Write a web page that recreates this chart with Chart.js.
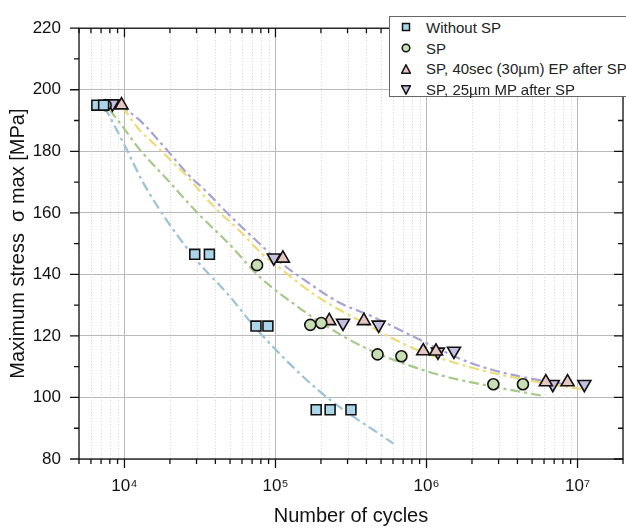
<!DOCTYPE html>
<html>
<head>
<meta charset="utf-8">
<script src="https://cdn.jsdelivr.net/npm/chart.js@4.4.1/dist/chart.umd.min.js"></script>
<style>
  html, body { margin: 0; padding: 0; background: #fff; overflow: hidden; }
  #wrap { position: relative; width: 640px; height: 531px; }
  #legend {
    position: absolute; left: 389px; top: 16px; width: 240px; height: 81px;
    box-sizing: border-box; border: 1px solid #666; background: #fff;
    font-family: "Liberation Sans", Arial, sans-serif; font-size: 15px; color: #222;
    padding-top: 0px;
  }
  #legend .row { height: 20.8px; display: flex; align-items: center; }
  #legend svg { margin-left: 11px; margin-right: 15px; }
</style>
</head>
<body>
<div id="wrap">
  <canvas id="chart" width="640" height="531"></canvas>
  <div id="legend"></div>
</div>
<script>
// measured points (cycles, MPa)
const withoutSpN = [6560, 7280, 29200, 36500, 74300, 89100, 186000, 230000, 316000];
const withoutSpS = [195, 195, 146.5, 146.5, 123.2, 123.2, 96, 96, 96];

const spN = [7500, 75500, 170000, 201000, 474000, 682000, 2770000, 4350000];
const spS = [195, 143, 123.6, 124.2, 114, 113.4, 104.3, 104.3];

const epN = [9560, 112000, 227000, 385000, 951000, 1156000, 6170000, 8590000];
const epS = [195, 145.2, 124.9, 124.9, 115.1, 115, 105, 105];

const mpN = [8330, 97500, 280000, 482000, 1190000, 1520000, 6860000, 11100000];
const mpS = [195.5, 145.4, 124.2, 123.6, 114.8, 115.1, 104.3, 104.3];

// fitted curves
const fitWithoutN = [7400, 10300, 13100, 19700, 31000, 48700, 76500, 198000, 604000];
const fitWithoutS = [194.4, 180.8, 170.4, 156.5, 143.8, 133.4, 121.7, 101.8, 85.0];

const fitSpN = [7970, 9700, 12500, 18800, 31000, 50900, 76500, 134000, 220000, 421000, 923000, 1410000, 2860000, 5890000];
const fitSpS = [193.5, 188.1, 180.8, 171.3, 159.6, 149.2, 139.7, 130.2, 123.0, 115.4, 109.1, 106.5, 103.4, 100.5];

const fitEpN = [9700, 12500, 16200, 20600, 26600, 34400, 43800, 56700, 80100, 108000, 181000, 362000, 817000, 2210000, 4700000, 10600000];
const fitEpS = [194.4, 187.1, 181.8, 176.7, 171.3, 165.0, 159.6, 154.6, 147.0, 141.9, 133.4, 124.9, 116.0, 109.1, 105.6, 102.7];

const fitMpN = [9270, 12500, 18800, 26600, 34400, 48700, 73100, 108000, 163000, 256000, 447000, 817000, 1740000, 2860000, 5220000, 9120000];
const fitMpS = [195.0, 190.3, 180.8, 172.3, 167.2, 159.6, 151.4, 143.8, 137.5, 131.2, 126.1, 119.8, 112.2, 108.7, 105.9, 104.0];

const xDecades = [1e3, 1e4, 1e5, 1e6, 1e7];
const xMultipliers = [1, 2, 3, 4, 5, 6, 7, 8, 9];
const xMin = 5000, xMax = 2e7;
const yMin = 80, yMax = 220;

const labels = ['Without SP', 'SP', 'SP, 40sec (30\u00b5m) EP after SP', 'SP, 25\u00b5m MP after SP'];
const fills = ['#abd6ea', '#c8dfb3', '#e6c6c2', '#c6c0df'];
const lineColors = ['#9cc2d8', '#a6c889', '#ebdc78', '#a8a2d4'];

const sup = { '3': '\u00b3', '4': '\u2074', '5': '\u2075', '6': '\u2076', '7': '\u2077' };

function pts(xs, ys) { return xs.map((x, i) => ({ x: x, y: ys[i] })); }

const xTicks = [];
xDecades.forEach(d => xMultipliers.forEach(m => {
  const v = d * m;
  if (v >= xMin && v <= xMax) xTicks.push(v);
}));
function isDecade(v) { return Math.abs(Math.log10(v) - Math.round(Math.log10(v))) < 1e-9; }

function marker(style, fill, r, rot) {
  return {
    type: 'scatter', showLine: false, order: 0,
    pointStyle: style, pointRotation: rot || 0, pointRadius: r, pointHoverRadius: r,
    backgroundColor: fill, borderColor: '#111', pointBorderWidth: 1.6, borderWidth: 1.6
  };
}
function fit(color) {
  return {
    type: 'line', order: 1, pointRadius: 0, borderColor: color, borderWidth: 2.2,
    borderDash: [10, 4, 3, 4], cubicInterpolationMode: 'monotone', fill: false
  };
}

const datasets = [
  Object.assign(marker('rect', fills[0], 7), { label: labels[0], data: pts(withoutSpN, withoutSpS) }),
  Object.assign(marker('circle', fills[1], 5.5), { label: labels[1], data: pts(spN, spS) }),
  Object.assign(marker('triangle', fills[2], 7.5), { label: labels[2], data: pts(epN, epS) }),
  Object.assign(marker('triangle', fills[3], 7.5, 180), { label: labels[3], data: pts(mpN, mpS) }),
  Object.assign(fit(lineColors[0]), { label: 'fit0', data: pts(fitWithoutN, fitWithoutS) }),
  Object.assign(fit(lineColors[1]), { label: 'fit1', data: pts(fitSpN, fitSpS) }),
  Object.assign(fit(lineColors[2]), { label: 'fit2', data: pts(fitEpN, fitEpS) }),
  Object.assign(fit(lineColors[3]), { label: 'fit3', data: pts(fitMpN, fitMpS) })
];

// minor dotted grid + frame + tick marks (inward on top/right, outward on left/bottom)
const frameTicks = {
  id: 'frameTicks',
  beforeDatasetsDraw(chart) {
    const { ctx, chartArea: a, scales: { x } } = chart;
    ctx.save();
    ctx.strokeStyle = '#d4d4d4';
    ctx.lineWidth = 1;
    ctx.setLineDash([1, 2]);
    xTicks.forEach(v => {
      if (isDecade(v)) return;
      const px = Math.round(x.getPixelForValue(v)) + 0.5;
      ctx.beginPath(); ctx.moveTo(px, a.top); ctx.lineTo(px, a.bottom); ctx.stroke();
    });
    ctx.restore();
  },
  afterDraw(chart) {
    const { ctx, chartArea: a, scales: { x, y } } = chart;
    ctx.save();
    ctx.strokeStyle = '#111';
    ctx.lineWidth = 1.3;
    ctx.strokeRect(a.left, a.top, a.right - a.left, a.bottom - a.top);
    ctx.beginPath();
    xTicks.forEach(v => {
      const px = x.getPixelForValue(v);
      const len = isDecade(v) ? 9 : 5;
      ctx.moveTo(px, a.bottom); ctx.lineTo(px, a.bottom + len);
      ctx.moveTo(px, a.top); ctx.lineTo(px, a.top + len);
    });
    for (let v = yMin; v <= yMax; v += 10) {
      const py = y.getPixelForValue(v);
      const len = v % 20 === 0 ? 9 : 5;
      ctx.moveTo(a.left, py); ctx.lineTo(a.left - len, py);
      ctx.moveTo(a.right, py); ctx.lineTo(a.right - len, py);
    }
    ctx.stroke();
    ctx.restore();
  }
};

const font = "'Liberation Sans', Arial, sans-serif";

new Chart(document.getElementById('chart'), {
  type: 'scatter',
  data: { datasets: datasets },
  options: {
    responsive: false,
    animation: false,
    layout: { padding: { left: 0, top: 16, right: 11, bottom: 0 } },
    plugins: { legend: { display: false }, tooltip: { enabled: false } },
    scales: {
      x: {
        type: 'logarithmic', min: xMin, max: xMax,
        afterBuildTicks: s => { s.ticks = xTicks.map(v => ({ value: v, major: isDecade(v) })); },
        afterFit: s => { s.height = 72; },
        ticks: {
          autoSkip: false, maxRotation: 0, padding: 17, color: '#111',
          font: { family: font, size: 17 },
          callback: v => {
            if (!isDecade(v)) return '';
            const e = String(Math.round(Math.log10(v)));
            return '10' + sup[e];
          }
        },
        grid: {
          drawTicks: false,
          color: c => (c.tick && isDecade(c.tick.value)) ? '#b9b9b9' : 'rgba(0,0,0,0)',
          lineWidth: 1
        },
        border: { display: false },
        title: {
          display: true, text: 'Number of cycles', color: '#111',
          font: { family: font, size: 20 }, padding: { top: 0, bottom: 3 }
        }
      },
      y: {
        min: yMin, max: yMax,
        afterFit: s => { s.width = 79; },
        ticks: { stepSize: 20, padding: 18, color: '#111', font: { family: font, size: 17 } },
        grid: { drawTicks: false, color: '#b9b9b9', lineWidth: 1 },
        border: { display: false },
        title: {
          display: true, text: 'Maximum stress  \u03c3 max [MPa]', color: '#111',
          font: { family: font, size: 20 }, padding: { top: 6, bottom: 0 }
        }
      }
    }
  },
  plugins: [frameTicks]
});

// legend as real html text
const shapes = [
  '<rect x="1.5" y="1.5" width="7" height="7" fill="' + fills[0] + '" stroke="#111" stroke-width="1.5"/>',
  '<circle cx="5" cy="5" r="3.8" fill="' + fills[1] + '" stroke="#111" stroke-width="1.5"/>',
  '<polygon points="5,0.8 9.4,9.2 0.6,9.2" fill="' + fills[2] + '" stroke="#111" stroke-width="1.5"/>',
  '<polygon points="0.6,0.8 9.4,0.8 5,9.2" fill="' + fills[3] + '" stroke="#111" stroke-width="1.5"/>'
];
document.getElementById('legend').innerHTML = labels.map((t, i) =>
  '<div class="row"><svg width="10" height="10">' + shapes[i] + '</svg><span>' + t + '</span></div>'
).join('');
</script>
</body>
</html>
